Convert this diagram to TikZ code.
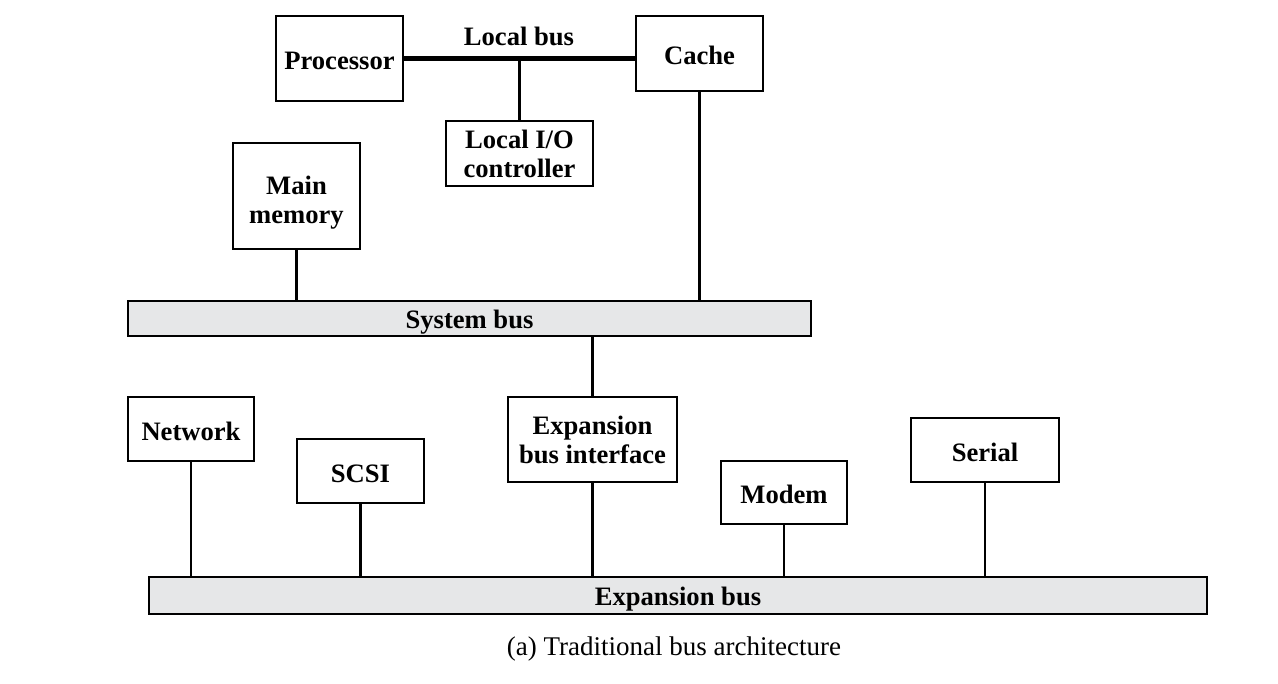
\documentclass[tikz,border=0pt]{standalone}
\usepackage{fontspec}
\setmainfont{Liberation Serif}
\usepackage{xcolor}
\usepackage{tikz}
\usetikzlibrary{calc}
\definecolor{busgray}{HTML}{E6E7E8}
\tikzset{unitbox/.style={draw=black, line width=0.8pt, align=center, inner sep=2pt,
  font=\fontsize{13.3}{14.5}\selectfont\bfseries,
  execute at begin node={\rule{0pt}{11.2pt}}},
  busbar/.style={unitbox, fill=busgray, inner ysep=0pt, execute at begin node={\rule{0pt}{13.2pt}}},
  wire/.style={black, line width=1.2pt}}

\begin{document}
\begin{tikzpicture} [x=0.5pt,y=-0.5pt]
\useasboundingbox (0,0) rectangle (1278,684);
% top: processor, cache, local I/O
\node[unitbox, minimum width=63.5pt, minimum height=42.5pt] (proc) at (339.5,58.5) {Processor};
\node[unitbox, minimum width=63.5pt, minimum height=37.5pt] (cache) at (699.5,53.5) {Cache};
\node[unitbox, minimum width=73.5pt, minimum height=32.5pt] (lio) at (519.5,153.5) {Local I/O\\controller};
\node[unitbox, minimum width=63.5pt, minimum height=53pt] (mem) at (296.5,196) {\rule{0pt}{16pt}Main\\memory};
\draw[black, line width=2.5pt] (proc.east) -- (proc.east -| cache.west) coordinate (lbend);
\node[font=\fontsize{13.3}{14.5}\selectfont\bfseries] (lbus) at (519,36) {Local bus};
\coordinate (ltap) at ($(proc.east)!(lio.north)!(lbend)$);
\draw[wire] (ltap) -- (lio.north);
% system bus
\node[busbar, minimum width=341.5pt, minimum height=17.5pt] (sysbus) at (469.5,318.5) {System bus};
\draw[wire] (mem.south) -- (mem.south |- sysbus.north);
\draw[wire] (cache.south) -- (cache.south |- sysbus.north);
% expansion side
\node[unitbox, minimum width=84.5pt, minimum height=42.5pt] (ebi) at (592.5,439.5) {Expansion\\bus interface};
\node[unitbox, minimum width=63pt, minimum height=32pt] (net) at (191,429) {Network};
\node[unitbox, minimum width=63.5pt, minimum height=32pt] (scsi) at (360.5,471) {SCSI};
\node[unitbox, minimum width=63pt, minimum height=31.5pt] (modem) at (784,492.5) {Modem};
\node[unitbox, minimum width=74pt, minimum height=32pt] (serial) at (985,450) {Serial};
\draw[wire] (ebi.north) -- (ebi.north |- sysbus.south);
\node[busbar, minimum width=529pt, minimum height=18.5pt] (expbus) at (678,595.5) {Expansion bus};
\foreach \dev in {net,scsi,ebi,modem,serial}
  \draw[wire] (\dev.south) -- (\dev.south |- expbus.north);
\node[font=\fontsize{13.5}{15}\selectfont] (cap) at (674,649) {(a) Traditional bus architecture};
\end{tikzpicture}
\end{document}
